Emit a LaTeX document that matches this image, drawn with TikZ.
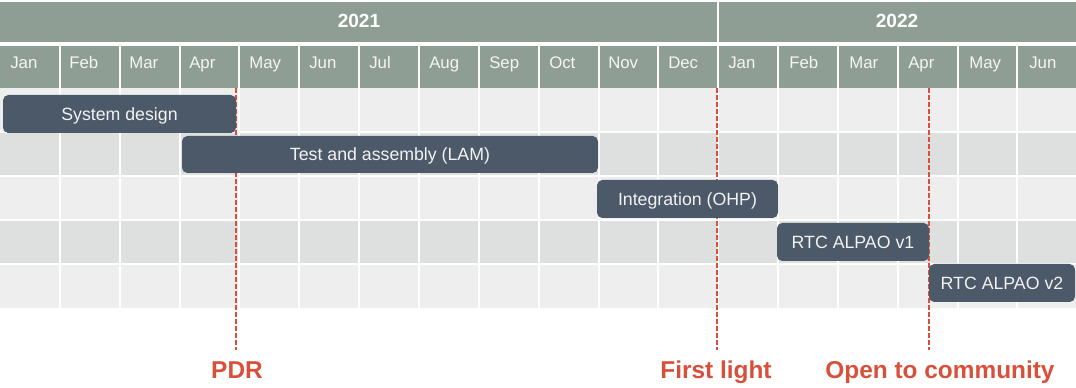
\documentclass[tikz,border=0pt]{standalone}
\usepackage{fontspec}
\setmainfont{Liberation Sans}
\setsansfont{Liberation Sans}
\definecolor{headfill}{HTML}{8F9E94}
\definecolor{rowlight}{HTML}{EDEEED}
\definecolor{rowdark}{HTML}{DDE0DF}
\definecolor{taskfill}{HTML}{4C5969}
\definecolor{msred}{HTML}{D9503A}

\begin{document}
\begin{tikzpicture}[x=0.75pt,y=-0.75pt,font=\sffamily,
 yearlabel/.style={font=\sffamily\bfseries\fontsize{14.3}{16}\selectfont,text=white,anchor=base,inner sep=0pt},
 month/.style={font=\sffamily\fontsize{12.6}{14}\selectfont,text=white!96!black,anchor=base west,inner sep=0pt},
 task/.style={fill=taskfill,rounded corners=4pt,text=white!95!black,inner sep=0pt,
  font=\sffamily\fontsize{13.3}{15}\selectfont,text height=9.5pt,text depth=0pt,minimum height=28.5pt},
 milestone/.style={draw=msred,line width=1.5pt,dash pattern=on 3.75pt off 1.5pt},
 mslabel/.style={text=msred,font=\sffamily\bfseries\fontsize{18.3}{20}\selectfont,anchor=base,inner sep=0pt},
 gridline/.style={white,line width=1.5pt}]
\useasboundingbox (0,0) rectangle (1076,388);
\fill[headfill] (0,2) rectangle (1076,42);
\fill[headfill] (0,46) rectangle (1076,88);
\fill[rowlight] (0,88) rectangle (1076,132);
\fill[rowdark] (0,132) rectangle (1076,176);
\fill[rowlight] (0,176) rectangle (1076,220);
\fill[rowdark] (0,220) rectangle (1076,264);
\fill[rowlight] (0,264) rectangle (1076,308);
\foreach \c in {1,...,17} \draw[gridline] (\c*59.85,46) -- (\c*59.85,308);
\draw[gridline] (717.6,2) -- (717.6,46);
\foreach \r in {132,176,220,264} \draw[gridline] (0,\r) -- (1076,\r);

\node[yearlabel] (y2021) at (359,28) {2021};
\node[yearlabel] (y2022) at (897,28) {2022};
\node[month] (jan21) at (10,69) {Jan};
\node[month] (feb21) at (69,69) {Feb};
\node[month] (mar21) at (129,69) {Mar};
\node[month] (apr21) at (189,69) {Apr};
\node[month] (may21) at (249,69) {May};
\node[month] (jun21) at (309,69) {Jun};
\node[month] (jul21) at (369,69) {Jul};
\node[month] (aug21) at (429,69) {Aug};
\node[month] (sep21) at (489,69) {Sep};
\node[month] (oct21) at (549,69) {Oct};
\node[month] (nov21) at (608,69) {Nov};
\node[month] (dec21) at (668,69) {Dec};
\node[month] (jan22) at (728,69) {Jan};
\node[month] (feb22) at (789,69) {Feb};
\node[month] (mar22) at (849,69) {Mar};
\node[month] (apr22) at (908,69) {Apr};
\node[month] (may22) at (969,69) {May};
\node[month] (jun22) at (1029,69) {Jun};

\coordinate (pdrtop) at (236,88);
\coordinate (pdrend) at (236,350);
\coordinate (lighttop) at (717,88);
\coordinate (lightend) at (717,350);
\coordinate (opentop) at (929,88);
\coordinate (openend) at (929,350);
\draw[milestone] (pdrtop) -- (pdrend);
\draw[milestone] (lighttop) -- (lightend);
\draw[milestone] (opentop) -- (openend);

\node[task,minimum width=174.75pt] (design) at (119.5,114) {System design};
\node[task,minimum width=312pt,minimum height=27.75pt] (assembly) at (390,154.5) {Test and assembly (LAM)};
\node[task,minimum width=135.75pt] (integration) at (687.5,199) {Integration (OHP)};
\node[task,minimum width=114pt] (rtcone) at (853,242) {RTC ALPAO v1};
\node[task,minimum width=109.5pt] (rtctwo) at (1002,283) {RTC ALPAO v2};

\node[mslabel] (pdr) at (237,379) {PDR};
\node[mslabel] (firstlight) at (716,379) {First light};
\node[mslabel] (community) at (940,379) {Open to community};
\end{tikzpicture}
\end{document}
